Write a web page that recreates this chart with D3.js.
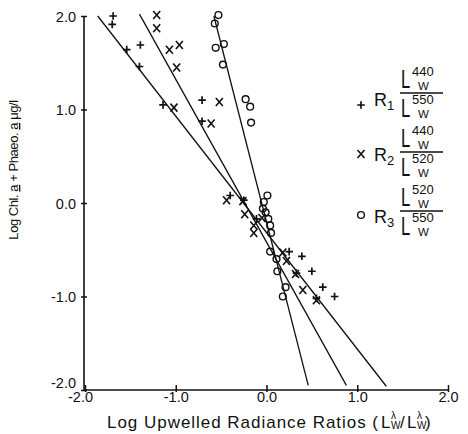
<!DOCTYPE html>
<html><head><meta charset="utf-8">
<script src="https://cdn.jsdelivr.net/npm/d3@7"></script>
<style>body{margin:0;background:#fff}text{font-family:"Liberation Sans",Arial,sans-serif;fill:#111}</style>
</head><body>
<svg id="c" width="468" height="434"></svg>
<script>
const xTicks = [-2, -1, 0, 1, 2];
const xTickLabels = ["-2.0", "-1.0", "0.0", "1.0", "2.0"];
const yTicks = [-2, -1, 0, 1, 2];
const yTickLabels = ["-2.0", "-1.0", "0.0", "1.0", "2.0"];

// R1 (+)
const r1X = [-1.69, -1.70, -1.54, -1.39, -1.40, -1.14, -0.71, -0.71, -0.40, -0.25, -0.11, 0.25, 0.39, 0.33, 0.50, 0.62, 0.55, 0.75];
const r1Y = [2.00, 1.91, 1.64, 1.69, 1.46, 1.05, 1.10, 0.875, 0.08, 0.03, -0.17, -0.52, -0.57, -0.75, -0.73, -0.90, -1.02, -1.00];
// R2 (x)
const r2X = [-1.21, -1.21, -1.07, -0.96, -0.99, -1.02, -0.52, -0.61, -0.44, -0.26, -0.24, -0.14, -0.14, -0.05, 0.18, 0.22, 0.32, 0.40, 0.55];
const r2Y = [2.01, 1.87, 1.64, 1.69, 1.45, 1.02, 1.08, 0.85, 0.03, 0.02, -0.12, -0.24, -0.32, -0.16, -0.53, -0.62, -0.76, -0.93, -1.04];
// R3 (o)
const r3X = [-0.53, -0.57, -0.56, -0.47, -0.48, -0.23, -0.18, -0.17, 0.01, -0.03, -0.04, -0.01, 0.02, 0.04, 0.05, 0.04, 0.11, 0.12, 0.21, 0.18];
const r3Y = [2.01, 1.92, 1.66, 1.70, 1.48, 1.11, 1.03, 0.86, 0.08, 0.01, -0.06, -0.10, -0.17, -0.24, -0.32, -0.52, -0.60, -0.73, -0.90, -1.00];

// regression lines: endpoints [x1, y1, x2, y2]
const lineR1 = [-1.86, 2.00, 1.32, -1.96];
const lineR2 = [-1.40, 2.02, 0.88, -1.95];
const lineR3 = [-0.58, 2.00, 0.46, -1.95];

const legendNames = ["1", "2", "3"];
const legendNum = ["440", "440", "520"];
const legendDen = ["550", "520", "550"];

const svg = d3.select("#c");
const x = d3.scaleLinear().domain([-2, 2]).range([85, 448]);
const y = d3.scaleLinear().domain([-2, 2]).range([390, 16]);

// axes
const xAxis = d3.axisBottom(x).tickValues(xTicks).tickSize(0).tickFormat("");
const gx = svg.append("g").attr("transform", `translate(0,${y(-2)})`).call(xAxis);
gx.select(".domain").attr("stroke", "#111").attr("stroke-width", 1.6).attr("d", `M${x(-2)},0H${x(2)}`);
gx.selectAll(".tick").append("line").attr("y1", -5).attr("y2", 2).attr("stroke", "#111").attr("stroke-width", 1.5);
gx.selectAll(".tick").append("text").attr("y", 12).attr("dx", (d) => d === -2 ? -5 : 0)
  .attr("text-anchor", "middle").attr("font-size", 14.5).attr("fill", "#111")
  .text((d, i) => xTickLabels[i]);

const yAxis = d3.axisLeft(y).tickValues(yTicks).tickSize(0).tickFormat("");
const gy = svg.append("g").attr("transform", `translate(${x(-2) - 1},0)`).call(yAxis);
gy.select(".domain").attr("stroke", "#111").attr("stroke-width", 1.6).attr("d", `M0,${y(-2)}V${y(2)}`);
gy.selectAll(".tick").append("line").attr("x1", -3).attr("x2", 3).attr("stroke", "#111").attr("stroke-width", 1.5);
gy.selectAll(".tick").append("text").attr("x", -8).attr("dy", (d) => d === -2 ? "-0.15em" : "0.35em")
  .attr("text-anchor", "end").attr("font-size", 14.5).attr("fill", "#111")
  .text((d, i) => yTickLabels[i]);
gy.selectAll("text").style("font-family", '"Liberation Sans",Arial,sans-serif');
gx.selectAll("text").style("font-family", '"Liberation Sans",Arial,sans-serif');

// regression lines
[lineR1, lineR2, lineR3].forEach(l => {
  svg.append("line").attr("x1", x(l[0])).attr("y1", y(l[1])).attr("x2", x(l[2])).attr("y2", y(l[3]))
    .attr("stroke", "#111").attr("stroke-width", 1.3);
});

// markers
function plus(g, cx, cy) {
  g.append("path").attr("d", `M${cx - 3.8},${cy}H${cx + 3.8}M${cx},${cy - 3.8}V${cy + 3.8}`)
    .attr("stroke", "#111").attr("stroke-width", 1.7).attr("fill", "none");
}
function cross(g, cx, cy) {
  g.append("path").attr("d", `M${cx - 3.5},${cy - 4}L${cx + 3.5},${cy + 4}M${cx + 3.5},${cy - 4}L${cx - 3.5},${cy + 4}`)
    .attr("stroke", "#111").attr("stroke-width", 1.6).attr("fill", "none");
}
function circ(g, cx, cy) {
  g.append("circle").attr("cx", cx).attr("cy", cy).attr("r", 3.4)
    .attr("stroke", "#111").attr("stroke-width", 1.4).attr("fill", "none");
}
const pts = svg.append("g");
r3X.forEach((v, i) => circ(pts, x(v), y(r3Y[i])));
r2X.forEach((v, i) => cross(pts, x(v), y(r2Y[i])));
r1X.forEach((v, i) => plus(pts, x(v), y(r1Y[i])));

// legend
const lg = svg.append("g");
const markerY = [105, 154, 215];
const rBase = [106, 161, 223];
const fracY = [93, 152, 211];
const markers = [plus, cross, circ];
function bigL(g, lx, base) {
  g.append("text").attr("transform", `translate(${lx},${base}) scale(0.95,1.45)`).attr("font-size", 17.5).text("L");
}
fracY.forEach((fy, i) => {
  markers[i](lg, 361, markerY[i]);
  const t = lg.append("text").attr("x", 374).attr("y", rBase[i]).attr("font-size", 18);
  t.append("tspan").text("R");
  t.append("tspan").attr("font-size", 13).attr("dy", 4).text(legendNames[i]);
  lg.append("line").attr("x1", 400).attr("x2", 443).attr("y1", fy).attr("y2", fy).attr("stroke", "#111").attr("stroke-width", 1.4);
  // numerator
  bigL(lg, 401, fy - 5);
  lg.append("text").attr("x", 412).attr("y", fy - 17).attr("font-size", 13).text(legendNum[i]);
  lg.append("text").attr("x", 418).attr("y", fy - 3).attr("font-size", 11.5).text("W");
  // denominator
  bigL(lg, 401, fy + 24);
  lg.append("text").attr("x", 412).attr("y", fy + 11).attr("font-size", 13).text(legendDen[i]);
  lg.append("text").attr("x", 418).attr("y", fy + 25).attr("font-size", 11.5).text("W");
});

// y-axis title
const yt = svg.append("text").attr("transform", "translate(18,170) rotate(-90)")
  .attr("text-anchor", "middle").attr("font-size", 13).attr("letter-spacing", -0.45);
yt.append("tspan").text("Log Chl. ");
yt.append("tspan").style("text-decoration", "underline").text("a");
yt.append("tspan").text(" + Phaeo. ");
yt.append("tspan").style("text-decoration", "underline").text("a");
yt.append("tspan").text(" μg/l");

// x-axis title
const xg = svg.append("g");
const xb = 428;
xg.append("text").attr("x", 107).attr("y", xb).attr("font-size", 17)
  .attr("textLength", 271).attr("lengthAdjust", "spacing").text("Log Upwelled Radiance Ratios (");
function smallL(g, lx) {
  g.append("text").attr("x", lx).attr("y", xb).attr("font-size", 17).text("L");
  g.append("text").attr("x", lx + 10).attr("y", xb - 9).attr("font-size", 10).text("λ");
  g.append("text").attr("x", lx + 10).attr("y", xb + 1).attr("font-size", 10).text("W");
}
smallL(xg, 381);
xg.append("text").attr("x", 400).attr("y", xb).attr("font-size", 17).text("/");
smallL(xg, 407);
xg.append("text").attr("x", 425).attr("y", xb).attr("font-size", 17).text(")");
</script>
</body></html>
